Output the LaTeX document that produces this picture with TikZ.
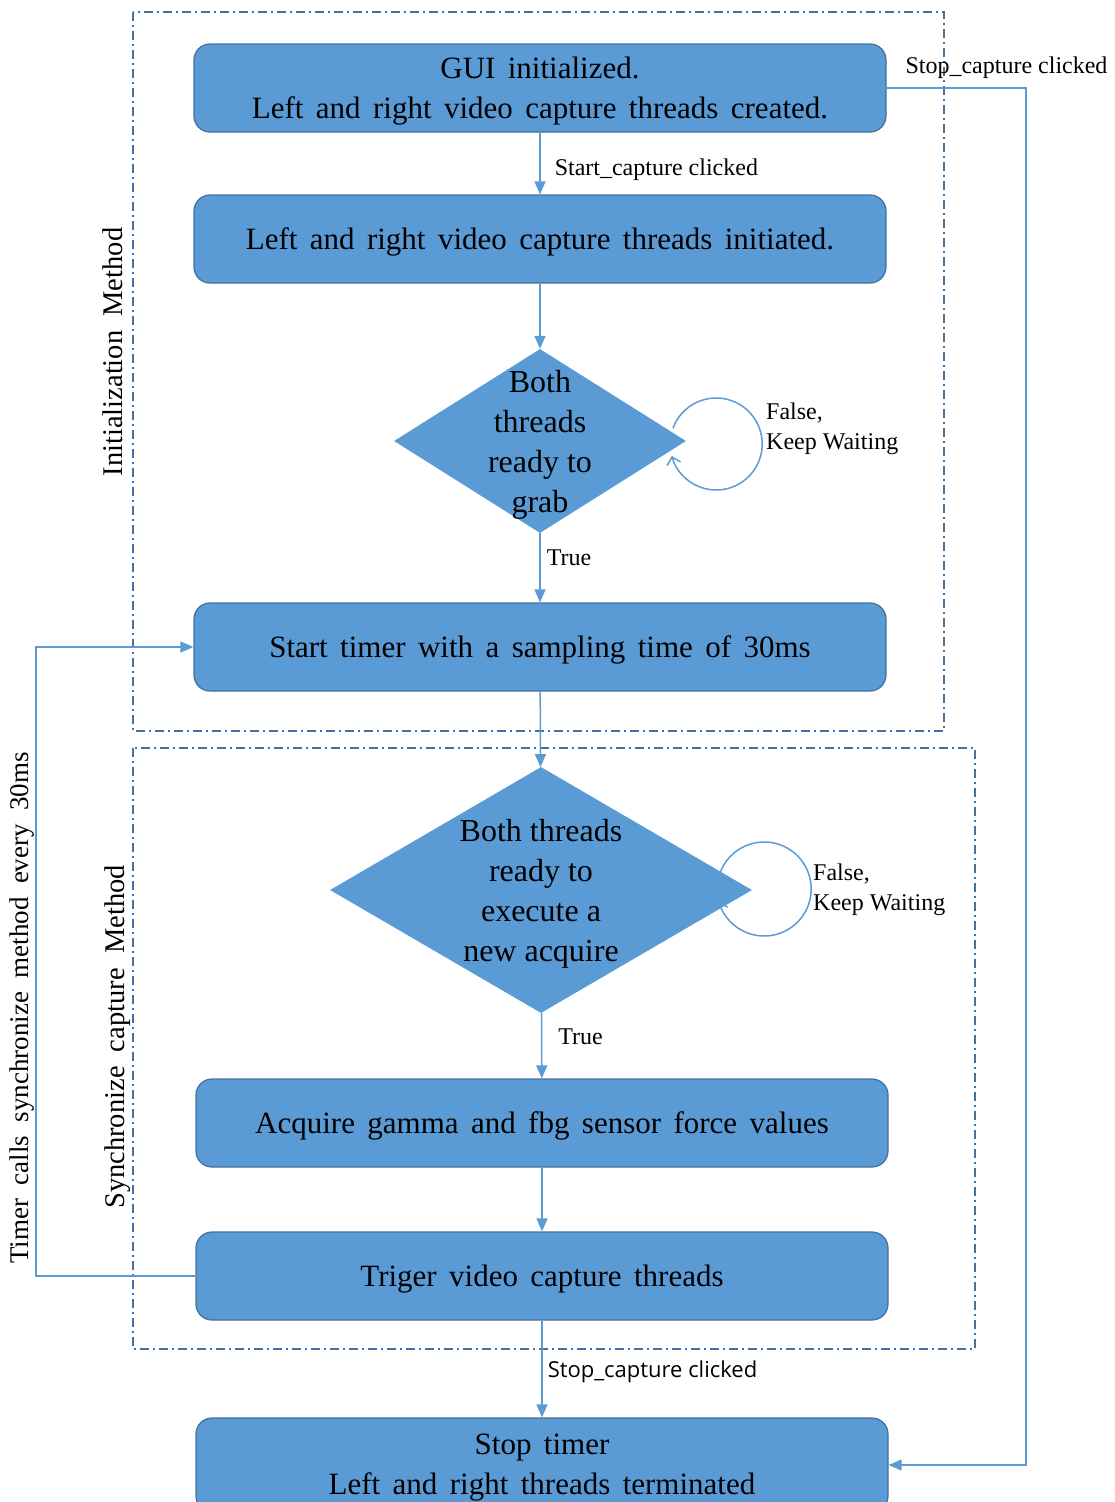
\documentclass[tikz,border=0pt]{standalone}
\usepackage{fontspec}
\setmainfont{Liberation Serif}
\newfontfamily\uifont{Open Sans}
\usetikzlibrary{positioning}
\usetikzlibrary{arrows,arrows.meta}
\usetikzlibrary{shapes,shapes.geometric}
\definecolor{boxblue}{HTML}{5B9BD5}
\definecolor{boxedge}{HTML}{41719C}
\newcommand{\widespacing}{\spaceskip 0.4em plus 0.1em\relax}

\begin{document}
\begin{tikzpicture}[x=1pt, y=-1pt, >={Triangle[length=13pt, width=11pt]},
    stepnode/.style={draw=boxedge, fill=boxblue, line width=1.2pt, rounded corners=16pt,
        minimum width=692pt, minimum height=88pt, align=center, text depth=1pt,
        font=\fontsize{31}{40}\selectfont\widespacing},
    decision/.style={diamond, fill=boxblue, inner sep=0pt, font=\fontsize{32}{40}\selectfont},
    flow/.style={->, draw=boxblue, line width=1.5pt},
    loopline/.style={-{Straight Barb[length=7pt, width=14pt]}, draw=boxblue, line width=1.5pt},
    groupframe/.style={draw=boxedge, line width=1.3pt, dash pattern=on 9pt off 4pt on 2pt off 4pt},
    edgelabel/.style={font=\fontsize{24}{30}\selectfont, inner sep=2pt},
    sidelabel/.style={rotate=90, font=\fontsize{28.5}{30}\selectfont}]

    \path[use as bounding box] (0,0) rectangle (1114,1502);
    \clip (0,0) rectangle (1114,1502);

    % Rahmen
    \draw[groupframe] (133,12) rectangle (944,731);
    \draw[groupframe] (133,748) rectangle (975,1349);
    \node[sidelabel] (initlbl) at (113,352) {Initialization\ \ Method};
    \node[sidelabel] (synclbl) at (118,1037) {Synchronize\ \ capture\ \ Method};

    % Schritte
    \node[stepnode] (gui) at (540,88) {GUI initialized.\\Left and right video capture threads created.};
    \node[stepnode] (init) at (540,239) {Left and right video capture threads initiated.};
    \node[decision, minimum width=292pt, minimum height=184pt] (grab) at (540,441)
        {\smash{\raisebox{-10pt}{\begin{tabular}{@{}c@{}}Both\\threads\\ready to\\grab\end{tabular}}}};
    \node[stepnode] (timer) at (540,647) {Start timer with a sampling time of 30ms};
    \node[decision, minimum width=422pt, minimum height=246pt] (acq) at (541,890)
        {\smash{\raisebox{-10pt}{\begin{tabular}{@{}c@{}}Both threads\\ready to\\execute a\\new acquire\end{tabular}}}};
    \node[stepnode] (force) at (542,1123) {Acquire gamma and fbg sensor force values};
    \node[stepnode] (trig) at (542,1276) {Triger video capture threads};
    \node[stepnode, minimum height=94pt] (stop) at (542,1465) {Stop timer\\Left and right threads terminated};

    % Pfeile
    \draw[flow] (gui) -- node[edgelabel, right=12pt, pos=.6] {Start\_capture clicked} (init);
    \draw[flow] (init) -- (grab);
    \draw[flow] (grab) -- node[edgelabel, right=4pt, pos=.36] {True} (timer);
    \draw[flow] (timer) -- (acq);
    \draw[flow] (acq) -- node[edgelabel, right=14pt, pos=.36] {True} (force);
    \draw[flow] (force) -- (trig);
    \draw[flow] (trig) -- node[edgelabel, right=3pt, pos=.53, font=\uifont\fontsize{22}{26}\selectfont] {Stop\_capture clicked} (stop);

    % Warteschleifen
    \draw[loopline] (grab.east) ++(30,3) ++(160:46pt) arc[start angle=160, end angle=-165, radius=46pt];
    \node[edgelabel, anchor=west, align=left] (wait1) at (764,429) {False,\\Keep Waiting};
    \draw[loopline] (acq.east) ++(12,-1) ++(160:47pt) arc[start angle=160, end angle=-165, radius=47pt];
    \node[edgelabel, anchor=west, align=left] (wait2) at (811,890) {False,\\Keep Waiting};

    % Rueckfuehrungen
    \coordinate (stopturn) at (1026,88);
    \draw[flow] (gui.east) -- node[edgelabel, above=7pt, pos=.86] {Stop\_capture clicked} (stopturn) |- (stop.east);
    \coordinate (timerturn) at (36,1276);
    \draw[flow] (trig.west) -- (timerturn) |- (timer.west);
    \node[sidelabel, font=\fontsize{27}{30}\selectfont] (timerlbl) at (22,1008) {Timer\ \ calls\ \ synchronize\ \ method\ \ every\ \ 30ms};
\end{tikzpicture}
\end{document}
